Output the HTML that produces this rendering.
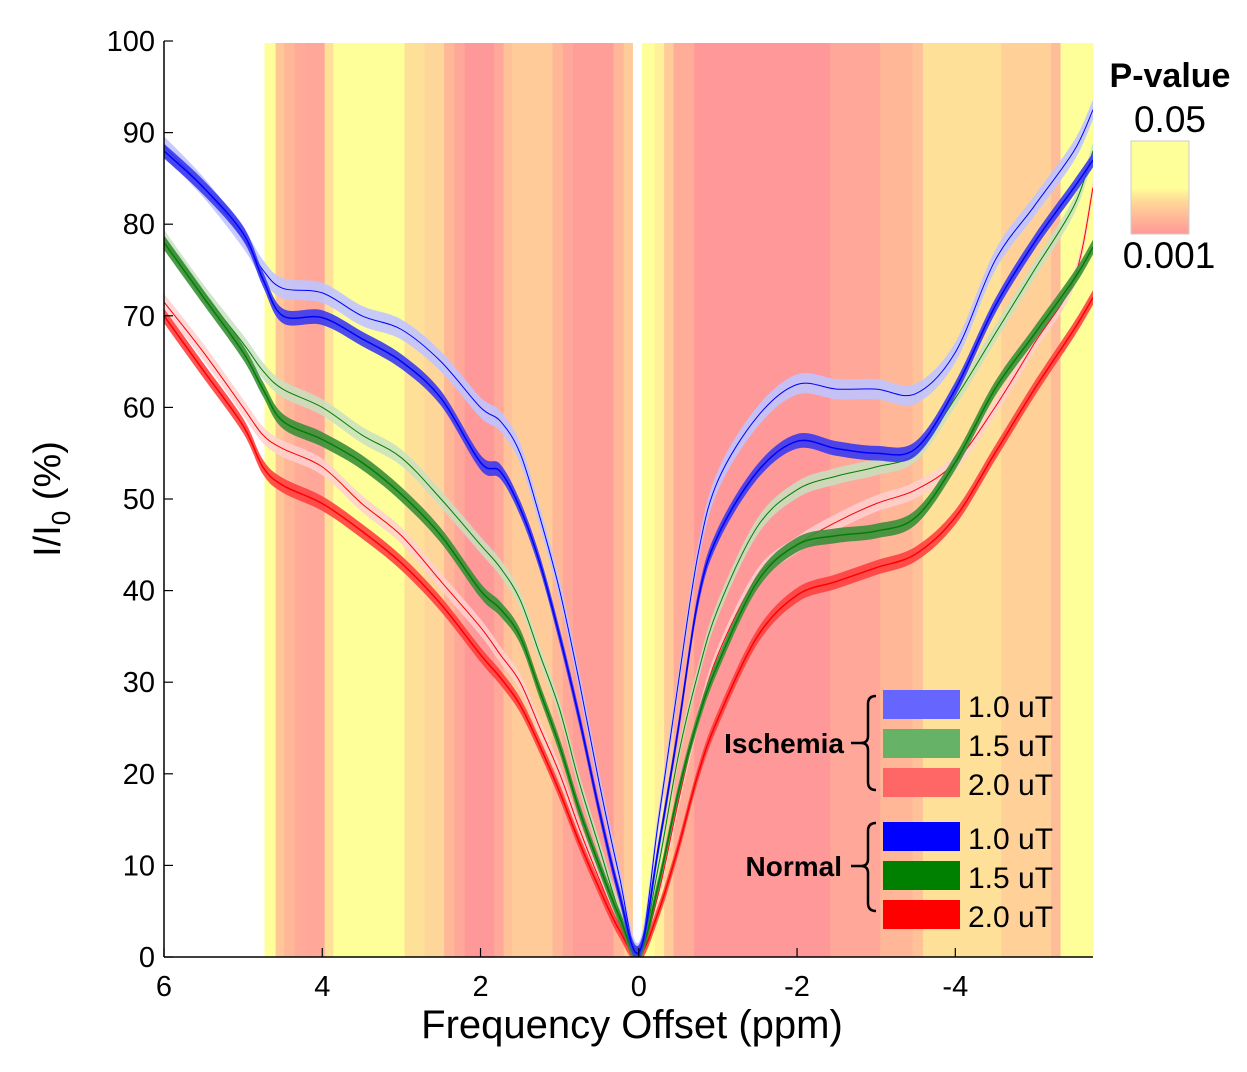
<!DOCTYPE html>
<html><head><meta charset="utf-8"><style>
body{margin:0;background:#fff;}
svg text{font-family:"Liberation Sans",sans-serif;}
</style></head><body>
<svg id="chart" width="1247" height="1067" viewBox="0 0 1247 1067" xmlns="http://www.w3.org/2000/svg">
<defs>
<linearGradient id="cbar" x1="0" y1="0" x2="0" y2="1">
<stop offset="0" stop-color="#ffff99"/><stop offset="0.5" stop-color="#ffff99"/><stop offset="0.65" stop-color="#ffd898"/><stop offset="1" stop-color="#ff9898"/>
</linearGradient>
<clipPath id="plotclip"><rect x="164" y="41" width="929" height="916"/></clipPath>
</defs>
<g id="bands"></g>
<g id="series" clip-path="url(#plotclip)"></g>
<g id="axes"></g>
<g font-size="30">
<rect x="883" y="690" width="77" height="29" fill="#6666ff"/>
<rect x="883" y="729" width="77" height="29" fill="#66b266"/>
<rect x="883" y="768" width="77" height="29" fill="#ff6666"/>
<rect x="883" y="822" width="77" height="29" fill="#0000ff"/>
<rect x="883" y="861" width="77" height="29" fill="#008000"/>
<rect x="883" y="900" width="77" height="29" fill="#ff0000"/>
<text x="968" y="717">1.0 uT</text>
<text x="968" y="756">1.5 uT</text>
<text x="968" y="795">2.0 uT</text>
<text x="968" y="849">1.0 uT</text>
<text x="968" y="888">1.5 uT</text>
<text x="968" y="927">2.0 uT</text>
<text x="844" y="753" text-anchor="end" font-weight="bold" font-size="28">Ischemia</text>
<text x="842" y="876" text-anchor="end" font-weight="bold" font-size="28">Normal</text>
<path d="M876,696 q-8,0 -8,8 v32 q0,7 -7,7 h-10 M861,743 q7,0 7,7 v32 q0,8 8,8" fill="none" stroke="#000" stroke-width="2.5"/>
<path d="M876,823 q-8,0 -8,8 v28 q0,7 -7,7 h-10 M861,866 q7,0 7,7 v30 q0,8 8,8" fill="none" stroke="#000" stroke-width="2.5"/>
</g>
<g>
<text x="1170" y="87" text-anchor="middle" font-size="34" font-weight="bold">P-value</text>
<text x="1170" y="132" text-anchor="middle" font-size="37">0.05</text>
<rect x="1131" y="141" width="58" height="93" fill="url(#cbar)" stroke="#ccc" stroke-width="1"/>
<text x="1169" y="268" text-anchor="middle" font-size="37">0.001</text>
</g>
</svg>
<script>
const NS='http://www.w3.org/2000/svg';
const X0=164,X1=1093,Y0=957,Y1=41;
const xMin=6,xMax=-5.74,yMin=0,yMax=100;
function sx(v){return X0+(xMin-v)/(xMin-xMax)*(X1-X0);}
function sy(v){return Y0-(v-yMin)/(yMax-yMin)*(Y0-Y1);}

const bandStart=[4.73,4.59,4.48,4.35,4.21,3.97,3.86,2.96,2.71,2.46,2.33,2.20,1.83,1.71,1.60,1.09,0.96,0.83,0.32,0.19,0.08,-0.04,-0.20,-0.32,-0.44,-0.70,-2.42,-3.05,-3.46,-3.59,-4.58,-5.21,-5.33];
const bandEnd=[4.59,4.48,4.35,4.21,3.97,3.86,2.96,2.71,2.46,2.33,2.20,1.83,1.71,1.60,1.09,0.96,0.83,0.32,0.19,0.08,-0.04,-0.20,-0.32,-0.44,-0.70,-2.42,-3.05,-3.46,-3.59,-4.58,-5.21,-5.33,-5.74];
const bandLevel=[0,0.55,0.7,0.82,0.85,0.3,0,0.3,0.4,0.7,0.85,1,0.85,0.6,0.5,0.7,0.85,0.95,0.7,0.5,-1,0,0.15,0.5,0.8,1,0.85,0.7,0.6,0.3,0.45,0.65,0];

function lvlColor(l){const g=Math.round(255-(255-152)*l);return 'rgb(255,'+g+','+Math.round(153-l)+')';}
const bg=document.getElementById('bands');
for(let i=0;i<bandStart.length;i++){
  if(bandLevel[i]<0)continue;
  const r=document.createElementNS(NS,'rect');
  const a=sx(bandStart[i]),b=sx(bandEnd[i]);
  r.setAttribute('x',a);r.setAttribute('y',43);r.setAttribute('width',b-a+0.5);r.setAttribute('height',Y0-43);
  r.setAttribute('fill',lvlColor(bandLevel[i]));
  
  
  bg.appendChild(r);
}

const ppm=[6,5.5,5,4.75,4.5,4,3.5,3,2.5,2,1.75,1.5,1.25,1,0.75,0.5,0.25,0,-0.25,-0.5,-0.75,-1,-1.5,-2,-2.5,-3,-3.5,-4,-4.5,-5,-5.5,-5.74];
const isch10=[88.5,84,78.5,75,73,72.5,70,68.5,65,60,58.5,55,48,40,30,19,9,0.5,15,30,44,52,59,62.5,62,62,61.5,66,76,82,88,92.5];
const isch15=[78.5,72.5,67,64,62,60,57,54.5,50,45,42.5,39,33,27,19,12,5,0.3,10,22,31,38,47,51,52.5,53.5,55,61,68,75,82,88];
const isch20=[71.5,66,60,57,55.5,53.5,49.5,46,41,36,33,30,25,20,14,8.5,3.5,0.2,7,17,26,33,41.5,45,47.5,49.5,51,54,60,67,74,84];
const norm10=[88,84,79,74,70,69.8,67.5,65,61,54,53,49,43,35,26,16,7,0.5,12,25,39,46,53,56.3,55.5,55,55.5,62,71,78,84,87];
const norm15=[78,72,66,62,58.5,56.5,54,50.5,46,40,38,35,29,23,16,10,4.5,0.3,8,18,26,32,41,45,46,46.5,48,54,62,68,74,77.5];
const norm20=[70,64,58,53.5,51.5,49.5,46.5,43,38.5,33,30.5,27.5,23,18,12.5,7.5,3,0.2,5,12,20,26,35,39.5,41,42.5,44,48,55,62,68.5,72];

function smooth(pts){
  let d='M'+pts[0][0].toFixed(1)+','+pts[0][1].toFixed(1);
  for(let i=0;i<pts.length-1;i++){
    const p0=pts[Math.max(0,i-1)],p1=pts[i],p2=pts[i+1],p3=pts[Math.min(pts.length-1,i+2)];
    const t=1/6;
    const c1=[p1[0]+(p2[0]-p0[0])*t,p1[1]+(p2[1]-p0[1])*t];
    const c2=[p2[0]-(p3[0]-p1[0])*t,p2[1]-(p3[1]-p1[1])*t];
    d+='C'+c1[0].toFixed(1)+','+c1[1].toFixed(1)+' '+c2[0].toFixed(1)+','+c2[1].toFixed(1)+' '+p2[0].toFixed(1)+','+p2[1].toFixed(1);
  }
  return d;
}
const sg=document.getElementById('series');
function drawSeries(vals,bandColor,bandOp,lineColor,lw,hw,name){
  const up=ppm.map((p,i)=>[sx(p),sy(vals[i]+hw)]);
  const lo=ppm.map((p,i)=>[sx(p),sy(vals[i]-hw)]);
  const band=document.createElementNS(NS,'path');
  const loRev=lo.slice().reverse();
  band.setAttribute('d',smooth(up)+smooth(loRev).replace('M','L')+'Z');
  band.setAttribute('fill',bandColor);band.setAttribute('fill-opacity',bandOp);
  
  
  sg.appendChild(band);
  const ln=document.createElementNS(NS,'path');
  ln.setAttribute('d',smooth(ppm.map((p,i)=>[sx(p),sy(vals[i])])));
  ln.setAttribute('fill','none');ln.setAttribute('stroke',lineColor);ln.setAttribute('stroke-width',lw);
  
  
  sg.appendChild(ln);
}
drawSeries(isch20,'#ffd0d0',0.85,'#ff0000',1,0.9,'ischemia-2.0');
drawSeries(isch15,'#c8e0c0',0.85,'#008000',1,0.9,'ischemia-1.5');
drawSeries(isch10,'#c0c4ff',0.9,'#0000ff',1,1.1,'ischemia-1.0');
drawSeries(norm20,'#ff4040',0.9,'#ff0000',1.5,0.8,'normal-2.0');
drawSeries(norm15,'#3a8f3a',0.9,'#008000',1.5,0.8,'normal-1.5');
drawSeries(norm10,'#3a3aef',0.9,'#0000ff',1.5,0.8,'normal-1.0');

const yTicks=[0,10,20,30,40,50,60,70,80,90,100];
const xTicks=[6,4,2,0,-2,-4];
const ax=document.getElementById('axes');
function el(tag,attrs,txt){const e=document.createElementNS(NS,tag);for(const k in attrs)e.setAttribute(k,attrs[k]);if(txt!==undefined)e.textContent=txt;ax.appendChild(e);return e;}
let e=el('line',{x1:X0,y1:Y1,x2:X0,y2:Y0,stroke:'#000','stroke-width':1.5});


e=el('line',{x1:X0,y1:Y0,x2:X1,y2:Y0,stroke:'#000','stroke-width':1.5});


yTicks.forEach(v=>{
  const t=el('line',{x1:X0,y1:sy(v),x2:X0+9,y2:sy(v),stroke:'#000','stroke-width':1.2});
  
  
  const l=el('text',{x:155,y:sy(v)+10,'text-anchor':'end','font-size':29},String(v));
  
  
});
xTicks.forEach(v=>{
  const t=el('line',{x1:sx(v),y1:Y0,x2:sx(v),y2:Y0-9,stroke:'#000','stroke-width':1.2});
  
  
  const l=el('text',{x:sx(v),y:996,'text-anchor':'middle','font-size':29},String(v));
  
  
});
e=el('text',{x:632,y:1038,'text-anchor':'middle','font-size':40},'Frequency Offset (ppm)');


e=el('text',{transform:'translate(60,499) rotate(-90)','text-anchor':'middle','font-size':38});


e.innerHTML='I/I<tspan font-size="26" dy="10">0</tspan><tspan dy="-10"> (%)</tspan>';
</script>
</body></html>
